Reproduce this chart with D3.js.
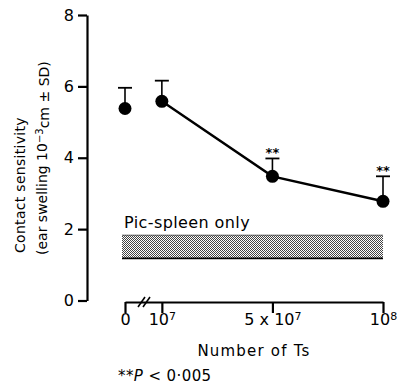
<!DOCTYPE html>
<html>
<head>
<meta charset="utf-8">
<script src="https://cdn.jsdelivr.net/npm/d3@7"></script>
<style>
  body { margin: 0; background: #fff; }
  text { font-family: "DejaVu Sans", "Liberation Sans", sans-serif; fill: #000; }
</style>
</head>
<body>
<svg id="chart" width="399" height="386"></svg>
<script>
// data
const xLabels = ["0", "10|7", "5 x 10|7", "10|8"];
const xIndex = [0, 1, 4, 7];
const means = [5.38, 5.58, 3.48, 2.78];
const sds = [0.58, 0.58, 0.50, 0.70];
const signif = [false, false, true, true];
const yTicks = [0, 2, 4, 6, 8];
const band = [1.18, 1.83];

const svg = d3.select("#chart");

const y = d3.scaleLinear().domain([0, 8]).range([300.5, 15]);
const x = d3.scaleLinear().domain([0, 7]).range([125, 383]);

// pattern for the stippled band
const defs = svg.append("defs");
const pat = defs.append("pattern")
    .attr("id", "stipple")
    .attr("width", 2).attr("height", 2)
    .attr("patternUnits", "userSpaceOnUse");
pat.append("rect").attr("width", 2).attr("height", 2).attr("fill", "#fff");
pat.append("rect").attr("width", 1).attr("height", 1).attr("fill", "#444");
pat.append("rect").attr("x", 1).attr("y", 1).attr("width", 1).attr("height", 1).attr("fill", "#444");

// y axis
const yAxis = d3.axisLeft(y).tickValues(yTicks).tickSize(9).tickSizeOuter(0).tickPadding(4);
const gy = svg.append("g")
    .attr("transform", "translate(87,0)")
    .call(yAxis);
gy.select(".domain").attr("stroke-width", 2.2);
gy.selectAll(".tick line").attr("stroke-width", 2.2);
gy.selectAll(".tick text").style("font-size", "16px");

// x axis
const xAxis = d3.axisBottom(x).tickValues(xIndex).tickSize(11).tickSizeOuter(0).tickPadding(1)
    .tickFormat((d, i) => xLabels[i]);
const gx = svg.append("g")
    .attr("transform", "translate(0,302)")
    .call(xAxis);
gx.select(".domain").attr("stroke-width", 2);
gx.selectAll(".tick line").attr("stroke-width", 2.2);
gx.selectAll(".tick text").style("font-size", "16px")
    .each(function(d, i) {
        const parts = xLabels[i].split("|");
        const t = d3.select(this).text(null);
        t.append("tspan").text(parts[0]);
        if (parts[1]) t.append("tspan").attr("dy", "-0.45em").style("font-size", "11px").text(parts[1]);
    });

// axis break
[0, 5].forEach(off => {
    svg.append("line")
        .attr("x1", x(0) + 13 + off).attr("y1", 307)
        .attr("x2", x(0) + 20 + off).attr("y2", 297)
        .attr("stroke", "#000").attr("stroke-width", 1.6);
});

// control band
svg.append("rect")
    .attr("x", x(0) - 3).attr("width", x(7) - x(0) + 3)
    .attr("y", y(band[1])).attr("height", y(band[0]) - y(band[1]))
    .attr("fill", "url(#stipple)");
svg.append("line")
    .attr("x1", x(0) - 3).attr("x2", x(7))
    .attr("y1", y(band[1])).attr("y2", y(band[1]))
    .attr("stroke", "#333").attr("stroke-width", 0.8);
svg.append("line")
    .attr("x1", x(0) - 3).attr("x2", x(7))
    .attr("y1", y(band[0])).attr("y2", y(band[0]))
    .attr("stroke", "#000").attr("stroke-width", 1.6);
svg.append("text")
    .attr("x", x(0) - 1).attr("y", 228)
    .style("font-size", "16px").style("letter-spacing", "0.4px")
    .text("Pic-spleen only");

// line through the Ts points
const pts = xIndex.map((d, i) => ({ xi: d, m: means[i], sd: sds[i], s: signif[i] }));
const line = d3.line().x(d => x(d.xi)).y(d => y(d.m));
svg.append("path")
    .datum(pts.slice(1))
    .attr("d", line)
    .attr("fill", "none")
    .attr("stroke", "#000")
    .attr("stroke-width", 2.4);

// error bars
const eb = svg.append("g").selectAll("g").data(pts).enter().append("g");
eb.append("line")
    .attr("x1", d => x(d.xi)).attr("x2", d => x(d.xi))
    .attr("y1", d => y(d.m)).attr("y2", d => y(d.m + d.sd))
    .attr("stroke", "#000").attr("stroke-width", 1.6);
eb.append("line")
    .attr("x1", d => x(d.xi) - 7).attr("x2", d => x(d.xi) + 7)
    .attr("y1", d => y(d.m + d.sd)).attr("y2", d => y(d.m + d.sd))
    .attr("stroke", "#000").attr("stroke-width", 1.8);
eb.filter(d => d.s).append("text")
    .attr("x", d => x(d.xi)).attr("y", d => y(d.m + d.sd) - 1)
    .attr("text-anchor", "middle")
    .style("font-size", "13px").style("font-weight", "bold")
    .text("**");

// points
svg.append("g").selectAll("circle").data(pts).enter()
    .append("circle")
    .attr("cx", d => x(d.xi)).attr("cy", d => y(d.m))
    .attr("r", 6.5)
    .attr("fill", "#000");

// y title
svg.append("text")
    .attr("transform", "translate(25,253) rotate(-90)")
    .style("font-size", "14px").style("letter-spacing", "0.3px")
    .text("Contact sensitivity");
const yt2 = svg.append("text")
    .attr("transform", "translate(47,255) rotate(-90)")
    .style("font-size", "14px");
yt2.append("tspan").text("(ear swelling 10");
yt2.append("tspan").attr("dy", "-0.45em").style("font-size", "10px").text("−3");
yt2.append("tspan").attr("dy", "0.45em").text("cm ± SD)");

// x title
svg.append("text")
    .attr("x", 254).attr("y", 356)
    .attr("text-anchor", "middle")
    .style("font-size", "15px").style("letter-spacing", "1.2px")
    .text("Number of Ts");

// footnote
const fn = svg.append("text").attr("x", 118).attr("y", 381)
    .style("font-size", "15px").style("letter-spacing", "0.4px");
fn.append("tspan").text("**");
fn.append("tspan").style("font-style", "italic").text("P");
fn.append("tspan").text(" < 0·005");
</script>
</body>
</html>
